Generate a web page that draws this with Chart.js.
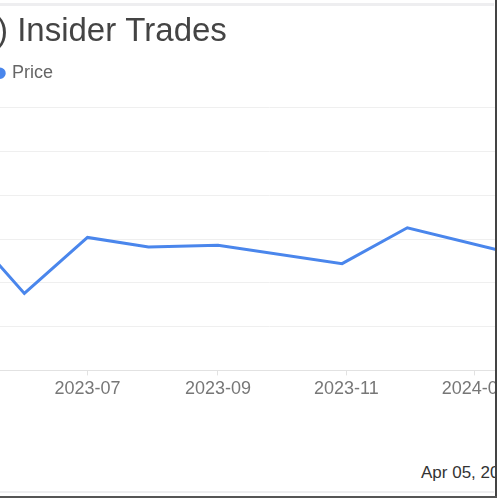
<!DOCTYPE html>
<html>
<head>
<meta charset="utf-8">
<script src="https://cdn.jsdelivr.net/npm/chart.js@4.4.1/dist/chart.umd.min.js"></script>
<style>
    html, body { margin: 0; padding: 0; background: #fff; }
    #frame { position: relative; width: 500px; height: 500px; overflow: hidden; background: #fff; }
    #clip { position: absolute; left: 0; top: 0; width: 495px; height: 496px; overflow: hidden; }
    #chart { position: absolute; left: -3px; top: 0; }
    #stamp {
        position: absolute; left: 421px; top: 463px; white-space: nowrap;
        font: 17px 'Liberation Sans', Arial, sans-serif; color: #333;
    }
    .rule { position: absolute; }
</style>
</head>
<body>
<div id="frame">
    <div id="clip">
        <canvas id="chart" width="545" height="403"></canvas>
        <div id="stamp">Apr 05, 2024</div>
    </div>
    <div class="rule" style="left:0;top:3px;width:494px;height:3px;background:#eeeef0"></div>
    <div class="rule" style="left:0;top:491px;width:494px;height:2px;background:#eeeef0"></div>
    <div class="rule" style="left:495px;top:0;width:2px;height:498px;background:#444"></div>
    <div class="rule" style="left:0;top:496px;width:497px;height:2px;background:#555"></div>
</div>
<script>
const TITLE        = ') Insider Trades';
const SERIES_LABEL = 'Price';

// monthly price points
const PRICE_DATES = ['2023-05-01', '2023-06-01', '2023-07-01', '2023-07-30', '2023-09-01', '2023-10-30', '2023-11-30', '2024-02-01'];
const PRICES      = [17.2, 8.8, 15.2, 14.1, 14.3, 12.2, 16.3, 12.6];

const TICK_DATES  = ['2023-07-01', '2023-09-01', '2023-11-01', '2024-01-01'];
const TICK_LABELS = ['2023-07', '2023-09', '2023-11', '2024-01'];

const VIEW_START = '2023-05-19';
const VIEW_END   = '2024-02-02';

const LINE_COLOR = 'rgb(74,134,236)';
const FONT       = "'Liberation Sans', Arial, sans-serif";

const DAY = 864e5;
const toDay = (s) => Date.parse(s + 'T00:00:00Z') / DAY;

const points = PRICE_DATES.map((d, i) => ({ x: toDay(d), y: PRICES[i] }));
const tickDays = TICK_DATES.map(toDay);

new Chart(document.getElementById('chart').getContext('2d'), {
    type: 'line',
    data: {
        datasets: [{
            label: SERIES_LABEL,
            data: points,
            borderColor: LINE_COLOR,
            backgroundColor: LINE_COLOR,
            borderWidth: 3,
            pointRadius: 0,
            tension: 0
        }]
    },
    options: {
        responsive: false,
        animation: false,
        layout: { padding: 0 },
        plugins: {
            title: {
                display: true,
                text: TITLE,
                align: 'start',
                color: '#444',
                font: { family: FONT, size: 33, weight: 'normal' },
                padding: { top: 12, bottom: 12.6 }
            },
            legend: {
                align: 'start',
                labels: {
                    usePointStyle: true,
                    pointStyle: 'circle',
                    boxWidth: 6,
                    boxHeight: 6,
                    padding: 0,
                    color: '#666',
                    font: { family: FONT, size: 18 }
                }
            },
            tooltip: { enabled: false }
        },
        scales: {
            x: {
                type: 'linear',
                min: toDay(VIEW_START),
                max: toDay(VIEW_END),
                afterBuildTicks: (axis) => {
                    axis.ticks = tickDays.map((v) => ({ value: v }));
                },
                ticks: {
                    autoSkip: false,
                    maxRotation: 0,
                    color: '#777',
                    font: { family: FONT, size: 18 },
                    padding: 3,
                    callback: (v) => TICK_LABELS[tickDays.indexOf(v)]
                },
                grid: {
                    drawOnChartArea: false,
                    drawTicks: true,
                    tickLength: 5,
                    color: '#e2e2e2'
                },
                border: { color: '#e2e2e2' }
            },
            y: {
                min: 0,
                max: 31.8,
                ticks: { display: false, stepSize: 5, includeBounds: false },
                grid: { drawTicks: false, color: '#efefef' },
                border: { display: false }
            }
        }
    }
});
</script>
</body>
</html>
